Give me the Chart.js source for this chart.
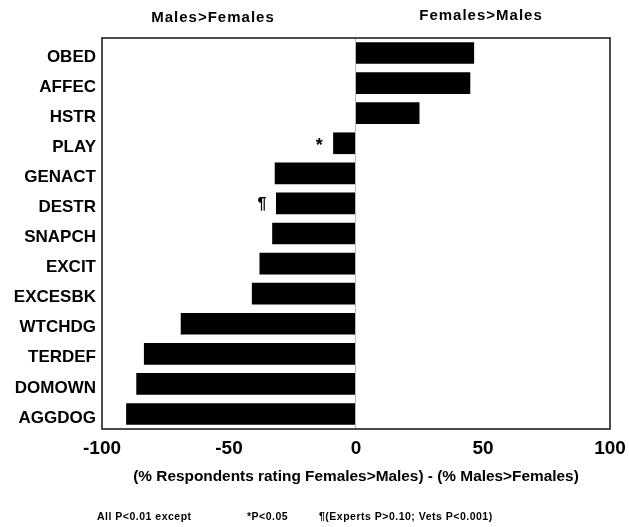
<!DOCTYPE html>
<html><head><meta charset="utf-8">
<script src="https://cdn.jsdelivr.net/npm/chart.js@4"></script>
<style>html,body{margin:0;padding:0;background:#fff}canvas{display:block}</style>
</head><body>
<canvas id="c" width="629" height="527"></canvas>
<script>
const categories = ['OBED','AFFEC','HSTR','PLAY','GENACT','DESTR','SNAPCH','EXCIT','EXCESBK','WTCHDG','TERDEF','DOMOWN','AGGDOG'];
const differences = [46.5, 45, 25, -9, -32, -31.5, -33, -38, -41, -69, -83.5, -86.5, -90.5];
const markers = ['', '', '', '*', '', '\u00B6', '', '', '', '', '', '', ''];
const xTicks = [-100, -50, 0, 50, 100];
const axisTitle = '(% Respondents rating Females>Males) - (% Males>Females)';
const sideLabels = ['Males>Females', 'Females>Males'];
const footnotes = ['All P<0.01 except', '*P<0.05', '\u00B6(Experts P>0.10; Vets P<0.001)'];

const FONT = '"Liberation Sans", Arial, Helvetica, sans-serif';

const decor = {
  id: 'decor',
  afterDatasetsDraw(chart) {
    const {ctx, chartArea: a, scales: {x, y}} = chart;
    ctx.save();
    ctx.strokeStyle = '#bbb';
    ctx.lineWidth = 1;
    const z = Math.round(x.getPixelForValue(0)) - 0.5;
    ctx.beginPath(); ctx.moveTo(z, a.top); ctx.lineTo(z, a.bottom); ctx.stroke();
    ctx.strokeStyle = '#111';
    ctx.lineWidth = 1.5;
    ctx.strokeRect(a.left, a.top, a.right - a.left, a.bottom - a.top);
    ctx.fillStyle = '#000';
    ctx.textAlign = 'center';
    ctx.textBaseline = 'middle';
    markers.forEach((m, i) => {
      if (!m) return;
      ctx.font = 'bold ' + (m === '*' ? 18 : 16) + 'px ' + FONT;
      const px = x.getPixelForValue(differences[i]) - 14;
      const py = y.getPixelForValue(i) + (m === '*' ? 3 : 1);
      ctx.fillText(m, px, py);
    });
    ctx.font = 'bold 15px ' + FONT;
    try { ctx.letterSpacing = '1px'; } catch (e) {}
    ctx.fillText(sideLabels[0], 213, 18);
    ctx.fillText(sideLabels[1], 481, 16);
    ctx.font = 'bold 10.5px ' + FONT;
    try { ctx.letterSpacing = '0.5px'; } catch (e) {}
    ctx.textAlign = 'left';
    ctx.fillText(footnotes[0], 97, 517);
    ctx.fillText(footnotes[1], 247, 517);
    ctx.fillText(footnotes[2], 319, 517);
    try { ctx.letterSpacing = '0px'; } catch (e) {}
    ctx.restore();
  }
};

new Chart(document.getElementById('c'), {
  type: 'bar',
  data: {
    labels: categories,
    datasets: [{
      data: differences,
      backgroundColor: '#000',
      borderWidth: 0,
      barPercentage: 0.72,
      categoryPercentage: 1.0
    }]
  },
  options: {
    indexAxis: 'y',
    responsive: false,
    animation: false,
    devicePixelRatio: 1,
    layout: {padding: {left: 0, right: 19, top: 38, bottom: 0}},
    plugins: {legend: {display: false}, tooltip: {enabled: false}},
    scales: {
      x: {
        type: 'linear',
        min: -100,
        max: 100,
        afterBuildTicks: s => { s.ticks = xTicks.map(v => ({value: v})); },
        afterFit: s => { s.height = 98; s.paddingLeft = 0; s.paddingRight = 0; },
        grid: {display: false, drawTicks: false},
        border: {display: false},
        ticks: {color: '#000', font: {family: FONT, size: 19, weight: 'bold'}, padding: 8, maxRotation: 0, autoSkip: false},
        title: {display: true, text: axisTitle, color: '#000', font: {family: FONT, size: 15.4, weight: 'bold'}, padding: {top: 0, bottom: 41}}
      },
      y: {
        afterFit: s => { s.width = 102; },
        grid: {display: false, drawTicks: false},
        border: {display: false},
        ticks: {color: '#000', font: {family: FONT, size: 17, weight: 'bold'}, padding: 6, labelOffset: 4, autoSkip: false}
      }
    }
  },
  plugins: [decor]
});
</script>
</body></html>
